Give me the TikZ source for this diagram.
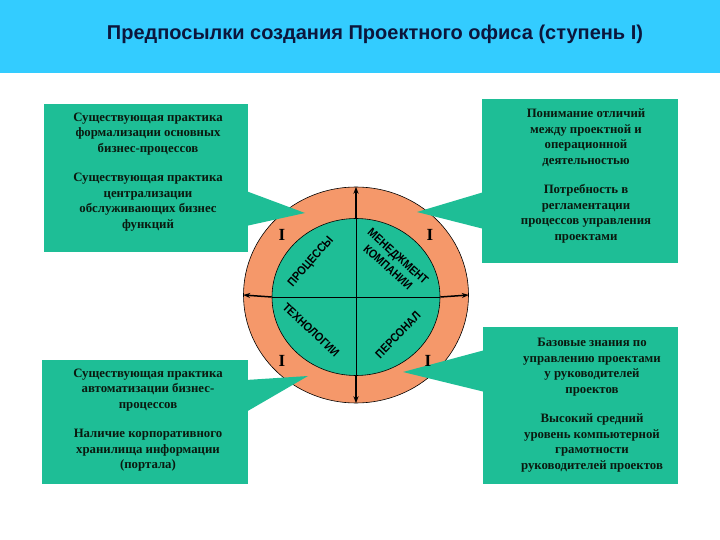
\documentclass[tikz,border=0pt]{standalone}
\usepackage{fontspec}
\setmainfont{Liberation Serif}
\newfontfamily\arialf{Liberation Sans}
\usetikzlibrary{shapes.geometric,arrows.meta}
\definecolor{teal1}{RGB}{30,190,150}
\definecolor{ringc}{RGB}{245,152,106}
\definecolor{band}{RGB}{51,204,255}
\definecolor{navy}{RGB}{12,22,60}
\definecolor{dtext}{RGB}{10,25,15}
\newcommand\narrowq[1]{\scalebox{0.87}[1]{#1}}
\begin{document}
\begin{tikzpicture}[x=1pt,y=-1pt,
  box/.style={fill=teal1, draw=none, inner sep=0, outer sep=0, anchor=north west},
  btext/.style={align=center, font=\bfseries\fontsize{12.8}{15.5}\selectfont, text=dtext, inner sep=0},
  qlabel/.style={font=\arialf\bfseries\fontsize{12}{15}\selectfont, text=black, inner sep=0, align=center},
  roman/.style={font=\bfseries\fontsize{17}{17}\selectfont, inner sep=0},
  ax/.style={line width=1.5pt, -{Stealth[length=7pt,width=5pt]}},
  ptr/.style={fill=teal1, draw=none}]
\useasboundingbox (0,0) rectangle (720,540);
\fill[white] (0,0) rectangle (720,540);
% title band
\node[fill=band, minimum width=720, minimum height=73, anchor=north west, inner sep=0, outer sep=0] (band) at (0,0) {};
\node[font=\arialf\bfseries\fontsize{20}{24}\selectfont, text=navy] (title) at (375,34) {Предпосылки создания Проектного офиса (ступень I)};
% boxes
\node[box, minimum width=204, minimum height=148] (lt) at (44,104) {};
\node[box, minimum width=196, minimum height=164] (rt) at (482,99) {};
\node[box, minimum width=206, minimum height=124] (lb) at (42,360) {};
\node[box, minimum width=195, minimum height=157] (rb) at (483,327) {};
% circle
\node[ellipse, fill=ringc, draw=black, line width=0.6pt, minimum width=225, minimum height=216, inner sep=0] (outer) at (356,295) {};
\node[ellipse, fill=teal1, draw=black, line width=0.6pt, minimum width=168, minimum height=157, inner sep=0] (inner) at (356,297) {};
\draw[line width=0.6pt] (inner.north) -- (inner.south);
\draw[line width=0.6pt] (inner.west) -- (inner.east);
\draw[ax] (inner.north) -- (outer.north);
\draw[ax] (inner.south) -- (outer.south);
\draw[ax] (inner.west) -- (outer.west);
\draw[ax] (inner.east) -- (outer.east);
% pointers
\coordinate (ltTip) at (305,213);
\coordinate (rtTip) at (417,212);
\coordinate (lbTip) at (308,376);
\coordinate (rbTip) at (403,372);
\fill[ptr] (246,191) -- (ltTip) -- (246,226) -- cycle;
\fill[ptr] (484,192) -- (rtTip) -- (484,229) -- cycle;
\fill[ptr] (246,380) -- (lbTip) -- (246,412) -- cycle;
\fill[ptr] (485,350) -- (rbTip) -- (485,392) -- cycle;
% quadrant labels
\node[qlabel, rotate=49] (proc) at (311,262) {\narrowq{ПРОЦЕССЫ}};
\node[qlabel, rotate=-42] (mgmt) at (393,262) {\narrowq{МЕНЕДЖМЕНТ}\\\narrowq{КОМПАНИИ}};
\node[qlabel, rotate=-43] (tech) at (311,330) {\narrowq{ТЕХНОЛОГИИ}};
\node[qlabel, rotate=46] (pers) at (398,335) {\narrowq{ПЕРСОНАЛ}};
\node[roman] (i1) at (282,235) {I};
\node[roman] (i2) at (430,235) {I};
\node[roman] (i3) at (282,361) {I};
\node[roman] (i4) at (428,361) {I};
% box texts
\node[btext] (ltT) at (148,172) {Существующая практика\\формализации основных\\бизнес-процессов\\[14pt]Существующая практика\\централизации\\обслуживающих бизнес\\функций};
\node[btext] (rtT) at (586,176) {Понимание отличий\\между проектной и\\операционной\\деятельностью\\[14pt]Потребность в\\регламентации\\процессов управления\\проектами};
\node[btext] (lbT) at (148,420) {Существующая практика\\автоматизации бизнес-\\процессов\\[14pt]Наличие корпоративного\\хранилища информации\\(портала)};
\node[btext] (rbT) at (592,405) {Базовые знания по\\управлению проектами\\у руководителей\\проектов\\[14pt]Высокий средний\\уровень компьютерной\\грамотности\\руководителей проектов};
\end{tikzpicture}
\end{document}
